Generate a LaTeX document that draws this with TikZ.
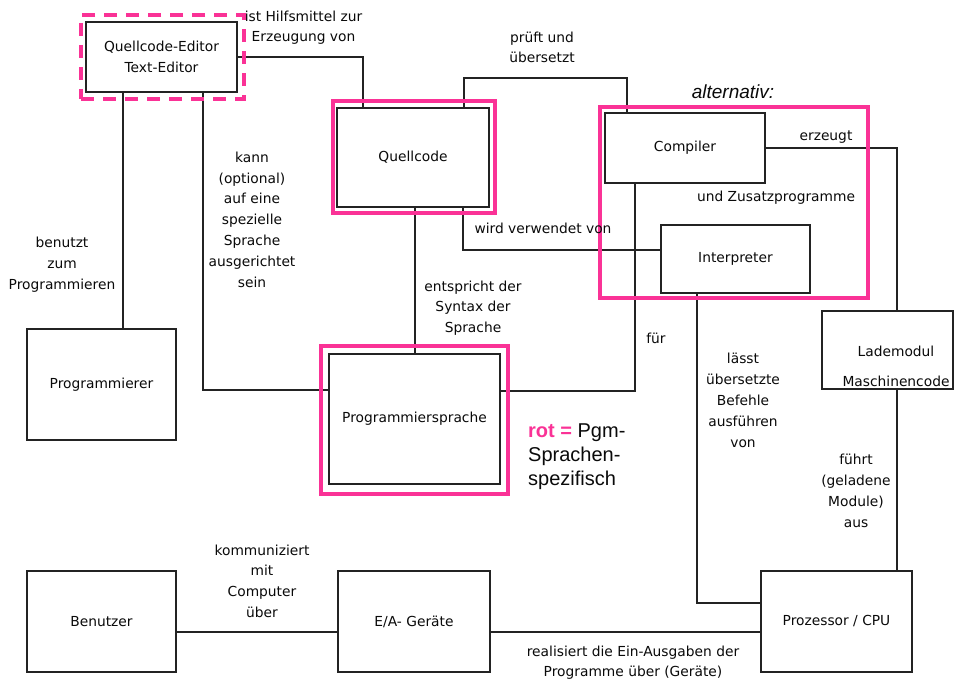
\documentclass[tikz,border=0pt]{standalone}
\usepackage{fontspec}
\setmainfont{DejaVu Sans}
\newfontfamily\arialf{Liberation Sans}
\definecolor{ln}{RGB}{35,35,35}
\definecolor{txt}{RGB}{10,10,10}
\definecolor{pk}{RGB}{250,50,150}
\begin{document}
\begin{tikzpicture}[x=1pt,y=-1pt,
  box/.style={draw=ln, line width=1.8pt, inner sep=0pt, outer sep=0pt, align=center, text=txt,
    font=\fontsize{13.8}{21}\selectfont},
  pbox/.style={draw=pk, line width=4pt, inner sep=0pt, outer sep=0pt, fill=none},
  pdash/.style={draw=pk, line width=3.2pt, dash pattern=on 13pt off 9pt, inner sep=0pt, outer sep=0pt, fill=none},
  conn/.style={draw=ln, line width=1.8pt},
  lbl/.style={font=\fontsize{13.8}{21}\selectfont, align=center, inner sep=0pt, text=txt},
]
\useasboundingbox (0,0) rectangle (961,684);
\fill[white] (0,0) rectangle (961,684);

% black boxes
\node[box, minimum width=151pt, minimum height=70pt] (ed) at (161.5,57) {Quellcode-Editor\\Text-Editor};
\node[box, minimum width=152pt, minimum height=99pt] (qc) at (413,157.5) {Quellcode};
\node[box, minimum width=160pt, minimum height=70pt] (comp) at (685,148) {Compiler};
\node[box, minimum width=149pt, minimum height=68pt] (interp) at (735.5,259) {Interpreter};
\node[box, minimum width=131pt, minimum height=78pt] (lade) at (887.5,350) {};
\node[lbl, font=\fontsize{13.8}{30}\selectfont] (ladetxt) at (896,366) {Lademodul\\Maschinencode};
\node[box, minimum width=149pt, minimum height=111pt] (prog) at (101.5,384.5) {Programmierer};
\node[box, minimum width=171pt, minimum height=130pt] (ps) at (414.5,419) {Programmiersprache};
\node[box, minimum width=149pt, minimum height=101pt] (ben) at (101.5,621.5) {Benutzer};
\node[box, minimum width=152pt, minimum height=101pt] (ea) at (414,621.5) {E/A- Geräte};
\node[box, minimum width=151pt, minimum height=101pt] (cpu) at (836.5,621.5) {Prozessor / CPU};

% connectors
\draw[conn] (ed.east) -| ([xshift=26pt]qc.north west);
\draw[conn] ([xshift=-25pt]qc.north east) -- ++(0,-30) -| ([xshift=22pt]comp.north west);
\draw[conn] (comp.east) -| ([xshift=75pt]lade.north west);
\draw[conn] ([xshift=-26pt]qc.south east) |- ([yshift=9pt]interp.west);
\draw[conn] ([xshift=30pt]comp.south west) |- ([yshift=28pt]ps.east);
\draw[conn] ([xshift=78pt]qc.south west) -- ([xshift=78pt]qc.south west |- ps.north);
\draw[conn] ([xshift=37pt]ed.south west) -- ([xshift=37pt]ed.south west |- prog.north);
\draw[conn] ([xshift=117pt]ed.south west) |- ([yshift=29pt]ps.west);
\draw[conn] ([xshift=36pt]interp.south west) |- ([yshift=18.5pt]cpu.west);
\draw[conn] ([xshift=75pt]lade.south west) -- ([xshift=75pt]lade.south west |- cpu.north);
\draw[conn] ([yshift=-10.5pt]ben.east) -- ([yshift=-10.5pt]ea.west);
\draw[conn] ([yshift=-10.5pt]ea.east) -- ([yshift=-10.5pt]cpu.west);

% pink frames
\node[pdash, minimum width=163pt, minimum height=84pt] (edp) at (162.5,57) {};
\node[pbox, minimum width=162pt, minimum height=112pt] (qcp) at (414,157) {};
\node[pbox, minimum width=268pt, minimum height=191pt] (altp) at (734,202.5) {};
\node[pbox, minimum width=187pt, minimum height=148pt] (psp) at (414.5,420) {};

% labels
\node[lbl, font=\fontsize{13.8}{20}\selectfont] (l1) at (303.5,28) {ist Hilfsmittel zur\\Erzeugung von};
\node[lbl, font=\fontsize{13.8}{20}\selectfont] (l2) at (542,47) {prüft und\\übersetzt};
\node[lbl] (l3) at (543,228) {wird verwendet von};
\node[lbl] (l4) at (826,137) {erzeugt};
\node[lbl] (l5) at (776,198) {und Zusatzprogramme};
\node[lbl, font=\arialf\itshape\fontsize{19}{22}\selectfont] (l6) at (733,92) {alternativ:};
\node[lbl] (l7) at (62,265) {benutzt\\zum\\Programmieren};
\node[lbl, font=\fontsize{13.8}{20.8}\selectfont] (l8) at (252,219.5) {kann\\(optional)\\auf eine\\spezielle\\Sprache\\ausgerichtet\\sein};
\node[lbl, font=\fontsize{13.8}{20.5}\selectfont] (l9) at (473,308) {entspricht der\\Syntax der\\Sprache};
\node[lbl] (l10) at (656,338) {für};
\node[lbl] (l11) at (743,400) {lässt\\übersetzte\\Befehle\\ausführen\\von};
\node[lbl] (l12) at (856,490.5) {führt\\(geladene\\Module)\\aus};
\node[lbl, font=\fontsize{13.8}{20.7}\selectfont] (l13) at (262,581) {kommuniziert\\mit\\Computer\\über};
\node[lbl, font=\fontsize{13.8}{20}\selectfont] (l14) at (633,663) {realisiert die Ein-Ausgaben der\\Programme über (Geräte)};
\node[lbl, align=left, anchor=west, font=\arialf\fontsize{20}{24}\selectfont] (l15) at (528,457)
  {{\color{pk}\bfseries rot =} Pgm-\\Sprachen-\\spezifisch};
\end{tikzpicture}
\end{document}
